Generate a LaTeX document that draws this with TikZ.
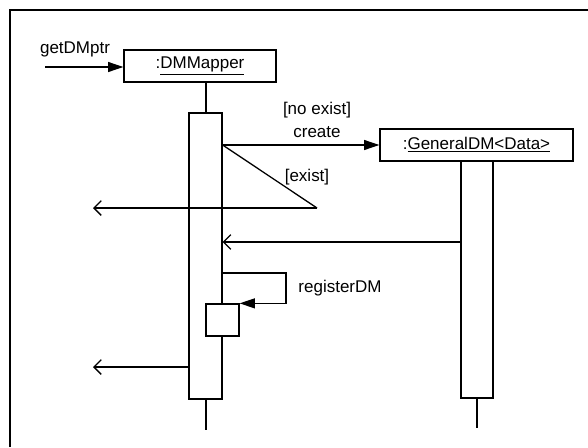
\documentclass[tikz,border=0pt]{standalone}
\usepackage{fontspec}
\setmainfont{Liberation Sans}
\usetikzlibrary{arrows.meta,positioning,calc}

\begin{document}
\begin{tikzpicture}[x=0.03cm,y=-0.03cm,line width=1.1pt,
        font=\fontsize{14.5}{17}\selectfont,
        obj/.style={draw,fill=white,minimum height=32*0.03cm,inner sep=0pt},
        act/.style={draw,fill=white,inner sep=0pt},
        msg/.style={-{Triangle[length=4.6mm,width=3mm]}},
        ret/.style={-{Straight Barb[length=2.2mm,width=4.4mm]}},
        lbl/.style={inner sep=1pt}]
        \useasboundingbox (0,0) rectangle (588,447);
        \draw (10,447) -- (10,10) -- (588,10);
        \node[obj,minimum width=152*0.03cm] (dm) at (200,66) {:\underline{DMMapper}};
        \node[obj,minimum width=193*0.03cm] (gd) at (476.5,145) {:\underline{GeneralDM\textless Data\textgreater}};
        \coordinate (e1) at (206,430);
        \coordinate (e2) at (477,428);
        \draw (dm.south -| e1) -- (e1);
        \draw (gd.south -| e2) -- (e2);
        \node[act,minimum width=33*0.03cm,minimum height=286*0.03cm] (a1) at (205.5,256) {};
        \node[act,minimum width=32*0.03cm,minimum height=237*0.03cm] (a2) at (477,279.5) {};
        \coordinate (in) at (45,67);
        \draw[msg] (in) -- (dm.west |- in);
        \node[lbl] (get) at (75,49) {getDMptr};
        \draw[msg] (a1.east |- gd.west) -- (gd.west);
        \node[lbl] (ne) at (317,110) {[no exist]};
        \node[lbl] (cr) at (317,132) {create};
        \coordinate (x1) at (317,208);
        \coordinate (o1) at (93,208);
        \draw (a1.east |- gd.west) -- (x1);
        \draw[ret] (x1) -- (o1);
        \node[lbl] (ex) at (307,177) {[exist]};
        \coordinate (r2) at (0,242);
        \draw[ret] (a2.west |- r2) -- (a1.east |- r2);
        \node[act,minimum width=33*0.03cm,minimum height=32*0.03cm] (a3) at (222.5,320) {};
        \coordinate (s1) at (286,273);
        \draw[msg] (a1.east |- s1) -- (s1) -- (s1 |- a3.north) -- (a3.north east);
        \node[lbl] (reg) at (340,288) {registerDM};
        \coordinate (o2) at (93,367);
        \draw[ret] (a1.west |- o2) -- (o2);
      \end{tikzpicture}
\end{document}
